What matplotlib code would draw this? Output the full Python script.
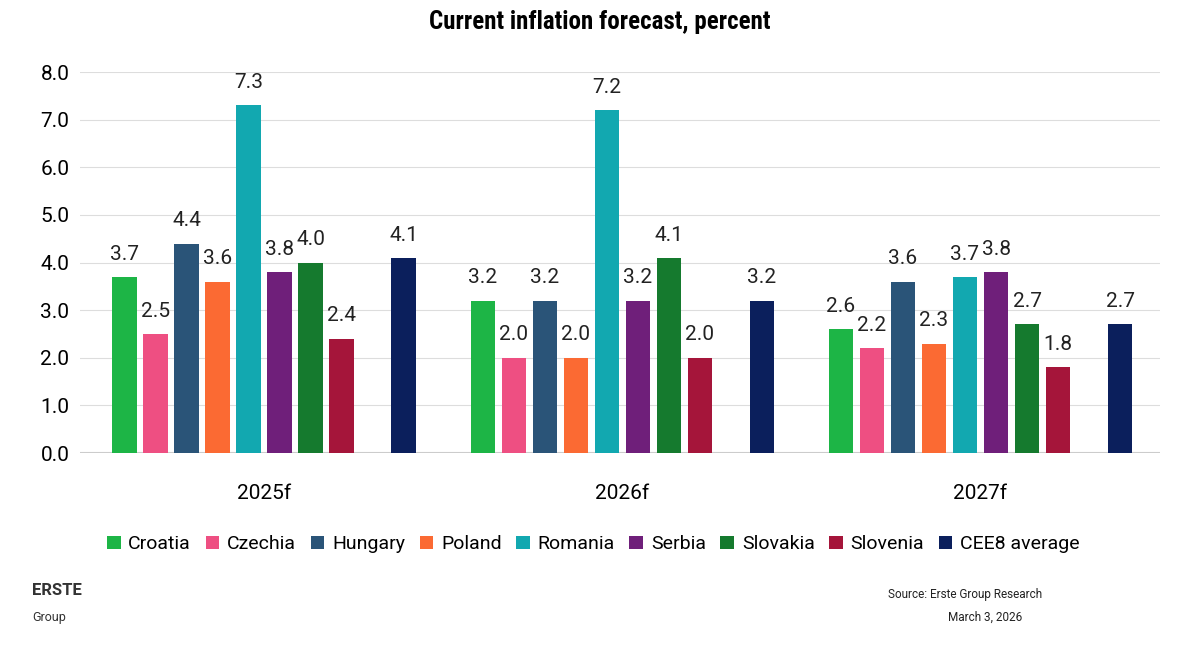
import matplotlib.pyplot as plt
import numpy as np

years = ['2025f', '2026f', '2027f']
countries = ['Croatia', 'Czechia', 'Hungary', 'Poland', 'Romania',
             'Serbia', 'Slovakia', 'Slovenia', 'CEE8 average']
colors = ['#1db546', '#ee4f82', '#2a5478', '#fb6a33', '#12a8b0',
          '#6f1f7a', '#157a2e', '#a5153a', '#0b1f5c']
values = {
    'Croatia':      [3.7, 3.2, 2.6],
    'Czechia':      [2.5, 2.0, 2.2],
    'Hungary':      [4.4, 3.2, 3.6],
    'Poland':       [3.6, 2.0, 2.3],
    'Romania':      [7.3, 7.2, 3.7],
    'Serbia':       [3.8, 3.2, 3.8],
    'Slovakia':     [4.0, 4.1, 2.7],
    'Slovenia':     [2.4, 2.0, 1.8],
    'CEE8 average': [4.1, 3.2, 2.7],
}

plt.rcParams['font.family'] = ['Roboto', 'DejaVu Sans']
fig = plt.figure(figsize=(12, 6.5), dpi=100)
ax = fig.add_axes([0.067, 0.303, 0.9, 0.586])

group_w = 11.55
for i, c in enumerate(countries):
    s = i if i < 8 else 9
    xs = np.arange(len(years)) * group_w + s
    ax.bar(xs, values[c], width=0.78, color=colors[i], label=c, zorder=3)
    for x, v in zip(xs, values[c]):
        ax.text(x, v + 0.28, f'{v:.1f}', ha='center', va='bottom', fontsize=15, color='#222')

ax.set_xticks(np.arange(len(years)) * group_w + 4.5)
ax.set_xticklabels(years, fontsize=15)
ax.set_ylim(0, 8)
ax.set_yticks(np.arange(0, 8.1, 1))
ax.set_yticklabels([f'{v:.1f}' for v in np.arange(0, 8.1, 1)], fontsize=15)
ax.set_xlim(-1.42, 2 * group_w + 10.3)
ax.grid(axis='y', color='#dddddd', zorder=0)
for sp in ax.spines.values():
    sp.set_visible(False)
ax.tick_params(axis='y', length=0, pad=8)
ax.tick_params(axis='x', length=0, pad=22)
ax.axhline(0, color='#cccccc', zorder=2)

ax.legend(loc='upper center', bbox_to_anchor=(0.475, -0.17), ncol=9, frameon=False,
          fontsize=14, handlelength=0.7, handleheight=0.7, columnspacing=0.75, handletextpad=0.4)

fig.suptitle('Current inflation forecast, percent', y=0.985, fontsize=18, fontweight='bold',
             family=['Roboto Condensed', 'Roboto', 'DejaVu Sans'])
fig.text(0.027, 0.085, 'ERSTE', fontsize=12, fontweight='bold', color='#333')
fig.text(0.027, 0.045, 'Group', fontsize=9, color='#333')
fig.text(0.74, 0.08, 'Source: Erste Group Research', fontsize=8.5, color='#222')
fig.text(0.79, 0.045, 'March 3, 2026', fontsize=8.5, color='#222')

fig.savefig('out.png')
